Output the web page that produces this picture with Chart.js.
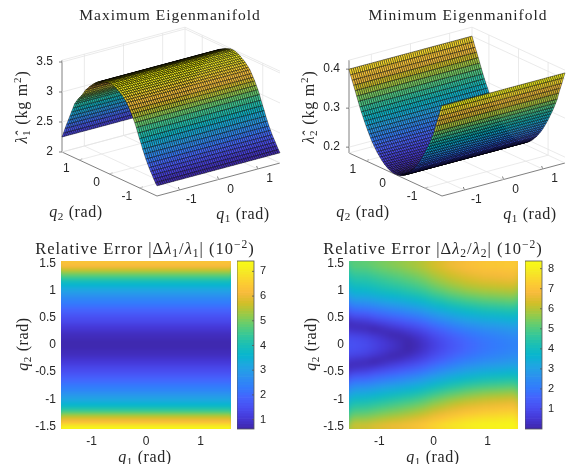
<!DOCTYPE html>
<html>
<head>
<meta charset="utf-8">
<title>Eigenmanifolds</title>
<script src="https://cdn.jsdelivr.net/npm/chart.js@4"></script>
<style>
html, body { margin: 0; padding: 0; background: #fff; }
canvas { position: absolute; }
</style>
</head>
<body>
<canvas id="surf1" style="left:0;top:0" width="284" height="232"></canvas>
<canvas id="surf2" style="left:284px;top:0" width="283" height="232"></canvas>
<canvas id="heat1" style="left:0;top:232px" width="284" height="232"></canvas>
<canvas id="heat2" style="left:284px;top:232px" width="283" height="232"></canvas>
<canvas id="bar1" style="left:237px;top:232px" width="40" height="232"></canvas>
<canvas id="bar2" style="left:525px;top:232px" width="40" height="232"></canvas>
<script>
// q grid of the two surfaces (rad)
const surfaceQ = [-1.571,-1.518,-1.466,-1.414,-1.361,-1.309,-1.257,-1.204,-1.152,-1.1,-1.047,-0.995,-0.942,-0.89,-0.838,-0.785,-0.733,-0.681,-0.628,-0.576,-0.524,-0.471,-0.419,-0.367,-0.314,-0.262,-0.209,-0.157,-0.105,-0.052,0,0.052,0.105,0.157,0.209,0.262,0.314,0.367,0.419,0.471,0.524,0.576,0.628,0.681,0.733,0.785,0.838,0.89,0.942,0.995,1.047,1.1,1.152,1.204,1.257,1.309,1.361,1.414,1.466,1.518,1.571];

// eigenvalues along q2
const lambda1 = [2.17,2.21,2.26,2.31,2.36,2.41,2.47,2.53,2.6,2.67,2.75,2.82,2.9,2.98,3.05,3.11,3.17,3.22,3.27,3.32,3.35,3.38,3.41,3.43,3.45,3.47,3.49,3.5,3.51,3.52,3.52,3.52,3.51,3.5,3.49,3.475,3.46,3.445,3.43,3.405,3.38,3.35,3.32,3.29,3.25,3.22,3.17,3.12,3.08,3.04,3,2.95,2.9,2.82,2.74,2.66,2.58,2.5,2.42,2.33,2.25];
const lambda2 = [0.416,0.402,0.386,0.372,0.357,0.34,0.328,0.316,0.305,0.295,0.285,0.275,0.266,0.257,0.249,0.241,0.234,0.228,0.221,0.216,0.211,0.206,0.202,0.198,0.195,0.192,0.19,0.188,0.187,0.186,0.186,0.186,0.187,0.188,0.19,0.192,0.195,0.198,0.202,0.206,0.211,0.216,0.221,0.228,0.234,0.241,0.249,0.257,0.266,0.275,0.285,0.295,0.305,0.316,0.328,0.34,0.352,0.364,0.375,0.387,0.4];

// left error map, only depends on q2
const error1Q2 = [1.55,1.5,1.45,1.4,1.35,1.3,1.25,1.2,1.15,1.1,1.05,1,0.95,0.9,0.85,0.8,0.75,0.7,0.65,0.6,0.55,0.5,0.45,0.4,0.35,0.3,0.25,0.2,0.15,0.1,0.05,0,-0.05,-0.1,-0.15,-0.2,-0.25,-0.3,-0.35,-0.4,-0.45,-0.5,-0.55,-0.6,-0.65,-0.7,-0.75,-0.8,-0.85,-0.9,-0.95,-1,-1.05,-1.1,-1.15,-1.2,-1.25,-1.3,-1.35,-1.4,-1.45,-1.5,-1.55];
const error1 = [6.4,6.3,6.15,5.8,5.4,5,4.6,4.2,3.85,3.6,3.35,3.15,2.95,2.75,2.55,2.4,2.25,2.1,1.95,1.8,1.65,1.5,1.4,1.3,1.15,1.05,0.95,0.85,0.8,0.75,0.7,0.7,0.7,0.75,0.8,0.85,0.95,1.05,1.15,1.3,1.4,1.5,1.65,1.8,1.95,2.1,2.25,2.4,2.55,2.75,2.95,3.15,3.35,3.6,3.9,4.3,4.75,5.3,5.75,6.1,6.5,7,7.4];

// right error map, one row per q2 from top to bottom
const error2Q1 = [-1.55,-1.395,-1.24,-1.085,-0.93,-0.775,-0.62,-0.465,-0.31,-0.155,0,0.155,0.31,0.465,0.62,0.775,0.93,1.085,1.24,1.395,1.55];
const error2Q2 = [1.5,1.4,1.3,1.2,1.1,1,0.9,0.8,0.7,0.6,0.5,0.4,0.3,0.2,0.1,0,-0.1,-0.2,-0.3,-0.4,-0.5,-0.6,-0.7,-0.8,-0.9,-1,-1.1,-1.2,-1.3,-1.4,-1.5];
const error2 = [
  [5.15,5.18,5.22,5.35,5.48,5.59,5.7,5.83,5.96,6.14,6.38,6.56,6.74,6.87,7.01,7.09,7.17,7.2,7.24,7.27,7.3],
  [4.9,4.94,4.97,5.11,5.24,5.36,5.46,5.6,5.73,5.92,6.15,6.34,6.52,6.66,6.79,6.88,6.96,7,7.03,7.07,7.1],
  [4.6,4.64,4.68,4.82,4.96,5.08,5.19,5.33,5.47,5.66,5.9,6.09,6.28,6.42,6.56,6.65,6.74,6.78,6.82,6.86,6.9],
  [4.3,4.34,4.39,4.53,4.67,4.79,4.91,5.05,5.19,5.38,5.63,5.82,6.01,6.15,6.3,6.39,6.48,6.52,6.57,6.61,6.65],
  [4,4.04,4.09,4.23,4.37,4.49,4.61,4.75,4.89,5.08,5.33,5.52,5.71,5.85,6,6.09,6.18,6.22,6.27,6.31,6.35],
  [3.65,3.69,3.74,3.88,4.02,4.14,4.26,4.4,4.54,4.73,4.98,5.17,5.36,5.5,5.65,5.74,5.83,5.87,5.92,5.96,6],
  [3.15,3.2,3.25,3.39,3.54,3.67,3.79,3.93,4.08,4.28,4.53,4.72,4.92,5.07,5.22,5.31,5.41,5.46,5.51,5.55,5.6],
  [2.6,2.65,2.71,2.86,3.01,3.14,3.27,3.42,3.57,3.77,4.03,4.23,4.43,4.58,4.74,4.84,4.94,4.99,5.05,5.1,5.15],
  [2,2.06,2.12,2.27,2.43,2.57,2.7,2.85,3.01,3.22,3.48,3.68,3.89,4.05,4.21,4.31,4.42,4.48,4.54,4.59,4.65],
  [1.4,1.46,1.53,1.69,1.85,1.99,2.13,2.29,2.45,2.66,2.93,3.14,3.35,3.51,3.68,3.79,3.9,3.96,4.03,4.09,4.15],
  [0.8,0.87,0.94,1.11,1.28,1.43,1.57,1.74,1.91,2.13,2.4,2.62,2.84,3.01,3.18,3.3,3.42,3.49,3.56,3.63,3.7],
  [0.2,0.28,0.36,0.53,0.71,0.87,1.02,1.19,1.37,1.6,1.88,2.1,2.33,2.51,2.69,2.81,2.94,3.02,3.1,3.17,3.25],
  [0.35,0.26,0.18,0.01,0.19,0.36,0.51,0.7,0.88,1.12,1.4,1.64,1.87,2.06,2.24,2.38,2.51,2.6,2.68,2.77,2.85],
  [0.82,0.73,0.63,0.44,0.25,0.07,0.09,0.28,0.48,0.72,1.02,1.26,1.5,1.7,1.89,2.03,2.18,2.27,2.36,2.46,2.55],
  [1.12,1.02,0.92,0.72,0.52,0.34,0.17,0.03,0.23,0.48,0.78,1.03,1.28,1.47,1.67,1.82,1.97,2.07,2.17,2.27,2.36],
  [1.2,1.1,1,0.8,0.6,0.42,0.25,0.05,0.15,0.4,0.7,0.95,1.2,1.4,1.6,1.75,1.9,2,2.1,2.2,2.3],
  [1.12,1.02,0.92,0.72,0.52,0.34,0.17,0.03,0.23,0.48,0.78,1.03,1.28,1.47,1.67,1.82,1.97,2.07,2.17,2.27,2.36],
  [0.82,0.73,0.63,0.44,0.25,0.07,0.09,0.28,0.48,0.72,1.02,1.26,1.5,1.7,1.89,2.03,2.18,2.27,2.36,2.46,2.55],
  [0.35,0.26,0.18,0.01,0.19,0.36,0.51,0.7,0.88,1.12,1.4,1.64,1.87,2.06,2.24,2.38,2.51,2.6,2.68,2.77,2.85],
  [0.2,0.28,0.36,0.53,0.71,0.87,1.02,1.19,1.37,1.6,1.88,2.1,2.33,2.51,2.69,2.81,2.94,3.02,3.1,3.17,3.25],
  [0.8,0.87,0.95,1.11,1.29,1.44,1.59,1.76,1.93,2.15,2.43,2.65,2.87,3.05,3.22,3.34,3.46,3.54,3.61,3.68,3.75],
  [1.45,1.52,1.58,1.75,1.91,2.06,2.19,2.36,2.52,2.74,3,3.22,3.43,3.6,3.76,3.88,3.99,4.06,4.12,4.19,4.25],
  [2.1,2.16,2.22,2.38,2.54,2.68,2.81,2.97,3.13,3.34,3.6,3.81,4.02,4.18,4.34,4.45,4.56,4.62,4.68,4.74,4.8],
  [2.7,2.76,2.82,2.97,3.13,3.27,3.4,3.55,3.71,3.92,4.18,4.38,4.59,4.75,4.91,5.01,5.12,5.18,5.24,5.29,5.35],
  [3.3,3.36,3.41,3.57,3.72,3.86,3.98,4.14,4.29,4.5,4.75,4.96,5.16,5.32,5.47,5.58,5.68,5.74,5.79,5.85,5.9],
  [3.85,3.9,3.96,4.11,4.26,4.39,4.52,4.67,4.82,5.02,5.28,5.48,5.68,5.83,5.99,6.09,6.19,6.24,6.3,6.35,6.4],
  [4.35,4.4,4.45,4.59,4.74,4.87,4.99,5.13,5.28,5.48,5.73,5.92,6.12,6.27,6.42,6.51,6.61,6.66,6.71,6.75,6.8],
  [4.8,4.85,4.9,5.04,5.19,5.32,5.44,5.58,5.73,5.93,6.18,6.37,6.57,6.72,6.87,6.96,7.06,7.11,7.16,7.2,7.25],
  [5.3,5.34,5.39,5.53,5.67,5.79,5.91,6.05,6.19,6.38,6.63,6.82,7.01,7.15,7.3,7.39,7.48,7.52,7.57,7.61,7.65],
  [5.85,5.89,5.92,6.06,6.19,6.31,6.41,6.55,6.68,6.87,7.1,7.29,7.47,7.61,7.74,7.83,7.91,7.95,7.98,8.02,8.05],
  [6.4,6.43,6.45,6.58,6.7,6.81,6.9,7.03,7.15,7.33,7.55,7.73,7.9,8.03,8.15,8.23,8.3,8.33,8.35,8.38,8.4]
];

// ticks
const qTicks = [-1, 0, 1];
const heatYTicks = [-1.5, -1, -0.5, 0, 0.5, 1, 1.5];
const zTicks1 = [2, 2.5, 3, 3.5];
const zTicks2 = [0.2, 0.3, 0.4];
const barTicks1 = [1, 2, 3, 4, 5, 6, 7];
const barTicks2 = [1, 2, 3, 4, 5, 6, 7, 8];

// text, split in runs for the math parts
const q1Label = [['q', 'i'], ['1', 'sub'], [' (rad)']];
const q2Label = [['q', 'i'], ['2', 'sub'], [' (rad)']];
const z1Label = [['λ\u0302', 'i'], ['1', 'sub'], [' (kg m'], ['2', 'sup'], [')']];
const z2Label = [['λ\u0302', 'i'], ['2', 'sub'], [' (kg m'], ['2', 'sup'], [')']];
const title1 = [['Maximum Eigenmanifold']];
const title2 = [['Minimum Eigenmanifold']];
const title3 = [['Relative Error |Δ'], ['λ', 'i'], ['1', 'sub'], ['/'], ['λ', 'i'], ['1', 'sub'], ['| (10'], ['−2', 'sup'], [')']];
const title4 = [['Relative Error |Δ'], ['λ', 'i'], ['2', 'sub'], ['/'], ['λ', 'i'], ['2', 'sub'], ['| (10'], ['−2', 'sup'], [')']];

// parula, sampled
const parula = [[62,38,168],[69,55,213],[72,77,240],[69,99,253],[50,124,252],[43,145,239],[32,165,226],[8,181,208],[25,191,182],[55,200,151],[100,205,111],[157,201,67],[209,191,39],[248,186,61],[252,207,48],[245,233,36],[249,251,21]];

const SERIF = '"Liberation Serif", serif';
const SANS = '"Liberation Sans", sans-serif';
const TICK = '#262626';

Chart.defaults.animation = false;
Chart.defaults.responsive = false;
Chart.defaults.plugins.legend.display = false;
Chart.defaults.plugins.tooltip.enabled = false;

function colorOf(v, lo, hi) {
    let t = (v - lo) / (hi - lo);
    t = Math.max(0, Math.min(1, t)) * (parula.length - 1);
    const i = Math.min(Math.floor(t), parula.length - 2);
    const f = t - i;
    const c = parula[i].map((a, k) => Math.round(a + (parula[i + 1][k] - a) * f));
    return 'rgb(' + c.join(',') + ')';
}

// mixed italic / sub / sup text, centred on x,y
function drawRich(ctx, runs, x, y, size, spacing, angle) {
    ctx.save();
    ctx.translate(x, y);
    if (angle) ctx.rotate(angle);
    ctx.fillStyle = '#262626';
    ctx.textAlign = 'left';
    ctx.textBaseline = 'alphabetic';
    ctx.letterSpacing = spacing + 'px';
    const fontOf = function (r) {
        const small = r[1] === 'sub' || r[1] === 'sup';
        return (r[1] === 'i' ? 'italic ' : '') + (small ? size * 0.7 : size) + 'px ' + SERIF;
    };
    let w = 0;
    runs.forEach(function (r) {
        ctx.font = fontOf(r);
        w += ctx.measureText(r[0]).width;
    });
    let cx = -w / 2;
    runs.forEach(function (r) {
        ctx.font = fontOf(r);
        const dy = r[1] === 'sub' ? size * 0.2 : r[1] === 'sup' ? -size * 0.38 : 0;
        ctx.fillText(r[0], cx, size * 0.3 + dy);
        cx += ctx.measureText(r[0]).width;
    });
    ctx.restore();
}

function tickText(ctx, text, x, y, align) {
    ctx.font = '12px ' + SANS;
    ctx.fillStyle = TICK;
    ctx.textAlign = align || 'center';
    ctx.textBaseline = 'middle';
    ctx.fillText(text, x, y);
}

function plainTick(value) {
    return String(value);
}

function segment(a, b, color, width) {
    return { data: [a, b], showLine: true, pointRadius: 0, borderColor: color, borderWidth: width };
}

// 3D panel: a scatter chart in pixel-sized units, the box is projected on it
function surfaceChart(id, p) {
    const canvas = document.getElementById(id);
    const Q = 1.571;
    const project = function (q1, q2, z) {
        const a = (q1 + Q) / (2 * Q), b = (q2 + Q) / (2 * Q);
        return {
            x: p.F[0] + a * (p.R[0] - p.F[0]) + b * (p.L[0] - p.F[0]),
            y: p.F[1] + a * (p.R[1] - p.F[1]) + b * (p.L[1] - p.F[1]) - (z - p.zMin) * p.zScale
        };
    };
    const GRID = '#e4e4e4', AXIS = '#606060';
    const ds = [];
    qTicks.forEach(function (t) {
        ds.push(segment(project(t, -Q, p.zMin), project(t, Q, p.zMin), GRID, 0.8));
        ds.push(segment(project(-Q, t, p.zMin), project(Q, t, p.zMin), GRID, 0.8));
        ds.push(segment(project(t, Q, p.zMin), project(t, Q, p.zMax), GRID, 0.8));
        ds.push(segment(project(Q, t, p.zMin), project(Q, t, p.zMax), GRID, 0.8));
    });
    p.zTicks.forEach(function (z) {
        ds.push(segment(project(-Q, Q, z), project(Q, Q, z), GRID, 0.8));
        ds.push(segment(project(Q, Q, z), project(Q, -Q, z), GRID, 0.8));
    });
    ds.push(segment(project(-Q, Q, p.zMax), project(Q, Q, p.zMax), GRID, 0.8));
    ds.push(segment(project(Q, Q, p.zMax), project(Q, -Q, p.zMax), GRID, 0.8));
    ds.push(segment(project(Q, Q, p.zMin), project(Q, Q, p.zMax), GRID, 0.8));
    ds.push(segment(project(-Q, Q, p.zMin), project(Q, Q, p.zMin), GRID, 0.8));
    ds.push(segment(project(Q, Q, p.zMin), project(Q, -Q, p.zMin), GRID, 0.8));
    // the dark axes
    ds.push(segment(project(-Q, Q, p.zMin), project(-Q, -Q, p.zMin), AXIS, 0.8));
    ds.push(segment(project(-Q, -Q, p.zMin), project(Q, -Q, p.zMin), AXIS, 0.8));
    ds.push(segment(project(-Q, Q, p.zMin), project(-Q, Q, p.zMax), AXIS, 0.8));
    qTicks.forEach(function (t) {
        const a = project(-Q, t, p.zMin), b = project(t, -Q, p.zMin);
        ds.push(segment(a, { x: a.x + 3, y: a.y - 1 }, AXIS, 0.8));
        ds.push(segment(b, { x: b.x - 1, y: b.y - 3 }, AXIS, 0.8));
    });
    p.zTicks.forEach(function (z) {
        const a = project(-Q, Q, z);
        ds.push(segment(a, { x: a.x - 3, y: a.y }, AXIS, 0.8));
    });

    const drawSurface = {
        id: 'drawSurface',
        afterDatasetsDraw: function (chart) {
            const ctx = chart.ctx, sx = chart.scales.x, sy = chart.scales.y;
            const n = surfaceQ.length;
            const px = function (i, j) {
                const o = project(surfaceQ[i], surfaceQ[j], p.values[j]);
                return [sx.getPixelForValue(o.x), sy.getPixelForValue(o.y)];
            };
            ctx.save();
            ctx.lineWidth = p.mesh;
            ctx.strokeStyle = '#000';
            // back to front
            for (let j = n - 2; j >= 0; j--) {
                ctx.fillStyle = colorOf((p.values[j] + p.values[j + 1]) / 2, p.cMin, p.cMax);
                for (let i = n - 2; i >= 0; i--) {
                    const a = px(i, j), b = px(i + 1, j), c = px(i + 1, j + 1), d = px(i, j + 1);
                    ctx.beginPath();
                    ctx.moveTo(a[0], a[1]);
                    ctx.lineTo(b[0], b[1]);
                    ctx.lineTo(c[0], c[1]);
                    ctx.lineTo(d[0], d[1]);
                    ctx.closePath();
                    ctx.fill();
                    ctx.stroke();
                }
            }
            ctx.restore();
        },
        afterDraw: function (chart) {
            const ctx = chart.ctx;
            ctx.save();
            p.zTicks.forEach(function (z) {
                const a = project(-Q, Q, z);
                tickText(ctx, String(z), a.x - 9, a.y, 'right');
            });
            qTicks.forEach(function (t) {
                const a = project(-Q, t, p.zMin), b = project(t, -Q, p.zMin);
                tickText(ctx, String(t), a.x - 13, a.y + 9);
                tickText(ctx, String(t), b.x + 12, b.y + 10);
            });
            ctx.restore();
            drawRich(ctx, p.title, p.titleX, 15, 15.5, 1);
            drawRich(ctx, q2Label, p.q2X, 212, 16, 0.6);
            drawRich(ctx, q1Label, p.q1X, 214, 16, 0.6);
            drawRich(ctx, p.zLabel, p.zLabelX, 107, 16, 0.8, -Math.PI / 2);
        }
    };

    return new Chart(canvas, {
        type: 'scatter',
        data: { datasets: ds },
        options: {
            layout: { padding: 0 },
            scales: {
                x: { type: 'linear', display: false, min: 0, max: canvas.width },
                y: { type: 'linear', display: false, min: 0, max: canvas.height, reverse: true }
            }
        },
        plugins: [drawSurface]
    });
}

// error maps share the same axes setup
function heatOptions(p, indexAxis) {
    return {
        indexAxis: indexAxis,
        layout: { padding: { top: 29, right: p.right } },
        scales: {
            x: {
                type: 'linear', min: -1.56, max: 1.56, offset: false,
                grid: { display: false, drawTicks: false }, border: { display: false },
                afterFit: function (s) { s.height = 35; },
                afterBuildTicks: function (s) { s.ticks = qTicks.map(function (v) { return { value: v }; }); },
                ticks: { padding: 5, color: TICK, maxRotation: 0, callback: plainTick, font: { family: SANS, size: 12 } }
            },
            y: {
                type: 'linear', min: -1.55, max: 1.55, offset: false,
                grid: { display: false, drawTicks: false }, border: { display: false },
                afterFit: function (s) { s.width = p.left; },
                afterBuildTicks: function (s) { s.ticks = heatYTicks.map(function (v) { return { value: v }; }); },
                ticks: { padding: 5, color: TICK, callback: plainTick, font: { family: SANS, size: 12 } }
            }
        }
    };
}

function heatText(p) {
    return {
        id: 'heatText',
        afterDraw: function (chart) {
            const ctx = chart.ctx;
            drawRich(ctx, p.title, p.titleX, 17, 16.5, 1);
            drawRich(ctx, q1Label, p.titleX, 225, 16, 0.6);
            drawRich(ctx, q2Label, p.q2X, 112, 16, 0.6, -Math.PI / 2);
        }
    };
}

// softens the drawn cells, the original maps are smooth images
function softCells(radius) {
    return {
        id: 'softCells',
        afterDatasetsDraw: function (chart) {
            const a = chart.chartArea, ctx = chart.ctx, m = radius * 4;
            const w = a.right - a.left, h = a.bottom - a.top;
            const tmp = document.createElement('canvas');
            tmp.width = w + 2 * m;
            tmp.height = h + 2 * m;
            const t = tmp.getContext('2d');
            // stretched copy underneath so the edges do not pick up the white page
            t.drawImage(chart.canvas, a.left, a.top, w, h, 0, 0, tmp.width, tmp.height);
            t.drawImage(chart.canvas, a.left, a.top, w, h, m, m, w, h);
            ctx.save();
            ctx.beginPath();
            ctx.rect(a.left, a.top, w, h);
            ctx.clip();
            ctx.filter = 'blur(' + radius + 'px)';
            ctx.drawImage(tmp, a.left - m, a.top - m);
            ctx.restore();
        }
    };
}

// colorbar: 64 stacked levels
function colorBar(id, lo, hi, ticks) {
    const levels = [];
    const step = (hi - lo) / 64;
    for (let i = 0; i < 64; i++) levels.push(lo + (i + 0.5) * step);
    const frame = {
        id: 'frame',
        afterDatasetsDraw: function (chart) {
            const a = chart.chartArea, ctx = chart.ctx, y = chart.scales.y;
            ctx.save();
            ctx.strokeStyle = '#555';
            ctx.lineWidth = 0.8;
            ctx.strokeRect(a.left, a.top, a.right - a.left, a.bottom - a.top);
            ticks.forEach(function (t) {
                const py = y.getPixelForValue(t);
                ctx.beginPath();
                ctx.moveTo(a.right, py);
                ctx.lineTo(a.right - 2, py);
                ctx.stroke();
            });
            ctx.restore();
        }
    };
    return new Chart(document.getElementById(id), {
        type: 'bar',
        data: {
            datasets: [{
                data: levels.map(function (v) { return { y: v, x: [0, 1] }; }),
                backgroundColor: levels.map(function (v) { return colorOf(v, lo, hi); }),
                barPercentage: 1,
                categoryPercentage: 1
            }]
        },
        options: {
            indexAxis: 'y',
            layout: { padding: { top: 29, bottom: 35 } },
            scales: {
                x: { type: 'linear', display: false, min: 0, max: 1 },
                y: {
                    type: 'linear', position: 'right', min: lo, max: hi, offset: false,
                    grid: { display: false, drawTicks: false }, border: { display: false },
                    afterFit: function (s) { s.width = 23; },
                    afterBuildTicks: function (s) { s.ticks = ticks.map(function (v) { return { value: v }; }); },
                    ticks: { padding: 6, color: TICK, callback: plainTick, font: { family: SANS, size: 11 } }
                }
            }
        },
        plugins: [frame]
    });
}

surfaceChart('surf1', {
    L: [62, 152], F: [157, 196], R: [280, 163],
    zMin: 2, zMax: 3.53, zScale: 60, zTicks: zTicks1,
    values: lambda1, cMin: 2.17, cMax: 3.52, mesh: 0.45,
    title: title1, titleX: 170, q1X: 243, q2X: 76, zLabel: z1Label, zLabelX: 22
});
surfaceChart('surf2', {
    L: [65, 153], F: [158, 196], R: [281, 163],
    zMin: 0.185, zMax: 0.423, zScale: 390, zTicks: zTicks2,
    values: lambda2, cMin: 0.186, cMax: 0.416, mesh: 0.45,
    title: title2, titleX: 174, q1X: 246, q2X: 79, zLabel: z2Label, zLabelX: 25
});

new Chart(document.getElementById('heat1'), {
    type: 'bar',
    data: {
        datasets: [{
            data: error1Q2.map(function (q) { return { y: q, x: [-1.56, 1.56] }; }),
            backgroundColor: error1.map(function (v) { return colorOf(v, 0.62, 7.42); }),
            barPercentage: 1,
            categoryPercentage: 1
        }]
    },
    options: heatOptions({ left: 61, right: 53 }, 'y'),
    plugins: [softCells(1), heatText({ title: title3, titleX: 145, q2X: 23 })]
});

new Chart(document.getElementById('heat2'), {
    type: 'bar',
    data: {
        datasets: error2Q2.map(function (q, r) {
            return {
                data: error2Q1.map(function (x) { return { x: x, y: [q - 0.05, q + 0.05] }; }),
                backgroundColor: error2[r].map(function (v) { return colorOf(v, 0, 8.38); }),
                barPercentage: 1,
                categoryPercentage: 1,
                grouped: false
            };
        })
    },
    options: heatOptions({ left: 65, right: 49 }, 'x'),
    plugins: [softCells(3), heatText({ title: title4, titleX: 149, q2X: 27 })]
});

colorBar('bar1', 0.62, 7.42, barTicks1);
colorBar('bar2', 0, 8.38, barTicks2);
</script>
</body>
</html>
